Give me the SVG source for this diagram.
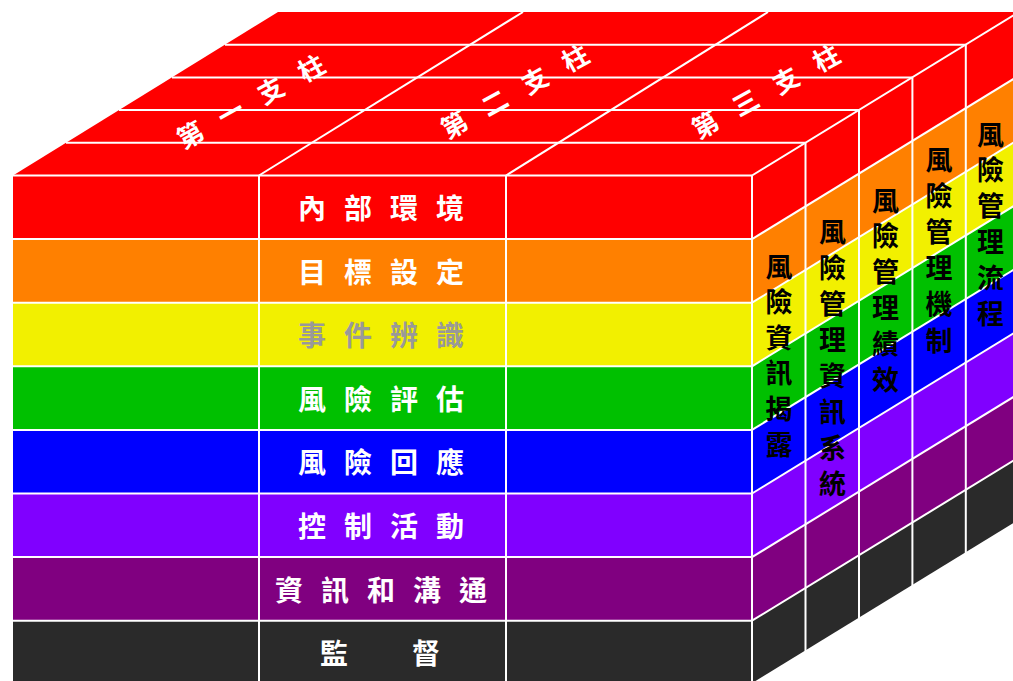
<svg xmlns="http://www.w3.org/2000/svg" width="1013" height="681" viewBox="0 0 1013 681">
<style>
.ln{stroke:#fff;stroke-width:2;fill:none;stroke-linecap:butt}
.ft{font-family:"Noto Sans CJK TC","Noto Sans CJK SC",sans-serif;font-weight:bold;font-size:28px;letter-spacing:18px;fill:#fff;dominant-baseline:central}
.tp{font-family:"Noto Sans CJK TC","Noto Sans CJK SC",sans-serif;font-weight:bold;font-size:26px;letter-spacing:20px;fill:#fff;dominant-baseline:central}
.vt{font-family:"Noto Sans CJK TC","Noto Sans CJK SC",sans-serif;font-weight:bold;font-size:27px;fill:#000;text-anchor:middle;dominant-baseline:central}
</style>
<rect width="1013" height="681" fill="#fff"/>
<g id="top-face">
<polygon points="13,175.5 752,175.5 1019,12 278,12" fill="#FF0000"/>
</g>
<g id="front-face">
<rect x="13" y="175.5" width="739" height="63.6" fill="#FF0000"/>
<rect x="13" y="239.1" width="739" height="63.6" fill="#FF8000"/>
<rect x="13" y="302.7" width="739" height="63.6" fill="#F2F000"/>
<rect x="13" y="366.3" width="739" height="63.6" fill="#00C000"/>
<rect x="13" y="429.9" width="739" height="63.6" fill="#0000FF"/>
<rect x="13" y="493.5" width="739" height="63.6" fill="#8000FF"/>
<rect x="13" y="557.1" width="739" height="63.6" fill="#800080"/>
<rect x="13" y="620.7" width="739" height="63.6" fill="#2A2A2A"/>
</g>
<g id="right-face">
<polygon points="752,175.5 1019,12 1019,75.6 752,239.1" fill="#FF0000"/>
<polygon points="752,239.1 1019,75.6 1019,139.2 752,302.7" fill="#FF8000"/>
<polygon points="752,302.7 1019,139.2 1019,202.8 752,366.3" fill="#F2F000"/>
<polygon points="752,366.3 1019,202.8 1019,266.4 752,429.9" fill="#00C000"/>
<polygon points="752,429.9 1019,266.4 1019,330 752,493.5" fill="#0000FF"/>
<polygon points="752,493.5 1019,330 1019,393.6 752,557.1" fill="#8000FF"/>
<polygon points="752,557.1 1019,393.6 1019,457.2 752,620.7" fill="#800080"/>
<polygon points="752,620.7 1019,457.2 1019,520.8 752,684.3" fill="#2A2A2A"/>
</g>
<g id="connectors">
<!-- top face -->
<line class="ln" x1="66" y1="142.8" x2="805.5" y2="142.8"/>
<line class="ln" x1="119" y1="110.1" x2="859" y2="110.1"/>
<line class="ln" x1="172" y1="77.4" x2="912.4" y2="77.4"/>
<line class="ln" x1="225" y1="44.7" x2="965.8" y2="44.7"/>
<line class="ln" x1="259" y1="175.5" x2="523" y2="12"/>
<line class="ln" x1="506" y1="175.5" x2="768" y2="12"/>
<line class="ln" x1="752" y1="175.5" x2="1019" y2="12"/>
<!-- front face -->
<line class="ln" x1="13" y1="175.5" x2="752" y2="175.5"/>
<line class="ln" x1="13" y1="239.1" x2="752" y2="239.1"/>
<line class="ln" x1="13" y1="302.7" x2="752" y2="302.7"/>
<line class="ln" x1="13" y1="366.3" x2="752" y2="366.3"/>
<line class="ln" x1="13" y1="429.9" x2="752" y2="429.9"/>
<line class="ln" x1="13" y1="493.5" x2="752" y2="493.5"/>
<line class="ln" x1="13" y1="557.1" x2="752" y2="557.1"/>
<line class="ln" x1="13" y1="620.7" x2="752" y2="620.7"/>
<line class="ln" x1="259" y1="175.5" x2="259" y2="684"/>
<line class="ln" x1="506" y1="175.5" x2="506" y2="684"/>
<line class="ln" x1="752" y1="175.5" x2="752" y2="684"/>
<!-- right face -->
<line class="ln" x1="752" y1="239.1" x2="1019" y2="75.6"/>
<line class="ln" x1="752" y1="302.7" x2="1019" y2="139.2"/>
<line class="ln" x1="752" y1="366.3" x2="1019" y2="202.8"/>
<line class="ln" x1="752" y1="429.9" x2="1019" y2="266.4"/>
<line class="ln" x1="752" y1="493.5" x2="1019" y2="330"/>
<line class="ln" x1="752" y1="557.1" x2="1019" y2="393.6"/>
<line class="ln" x1="752" y1="620.7" x2="1019" y2="457.2"/>
<line class="ln" x1="752" y1="684.3" x2="1019" y2="520.8"/>
<line class="ln" x1="805.5" y1="142.8" x2="805.5" y2="651.5"/>
<line class="ln" x1="859" y1="110.1" x2="859" y2="618.8"/>
<line class="ln" x1="912.4" y1="77.4" x2="912.4" y2="586.1"/>
<line class="ln" x1="965.8" y1="44.7" x2="965.8" y2="553.4"/>
</g>
<g id="pillar-labels">
<text class="tp" x="-82" y="0" transform="translate(250,100) rotate(-29)">第一支柱</text>
<text class="tp" x="-82" y="0" transform="translate(514,90) rotate(-29)">第二支柱</text>
<text class="tp" x="-82" y="0" transform="translate(765,90) rotate(-29)">第三支柱</text>
</g>
<g id="component-labels">
<text class="ft" x="298" y="207">內部環境</text>
<text class="ft" x="298" y="270.5">目標設定</text>
<text class="ft" x="298" y="334" fill="#999999" style="fill:#999999">事件辨識</text>
<text class="ft" x="298" y="397.5">風險評估</text>
<text class="ft" x="298" y="461">風險回應</text>
<text class="ft" x="298" y="525">控制活動</text>
<text class="ft" x="275" y="588.5">資訊和溝通</text>
<text class="ft" x="320" y="652">監　督</text>
</g>
<g id="objective-labels">
<text class="vt" x="779 779 779 779 779 779" y="265 300.6 336.2 371.8 407.4 443">風險資訊揭露</text>
<text class="vt" x="832.5 832.5 832.5 832.5 832.5 832.5 832.5 832.5" y="230 266 302 338 374 410 446 482">風險管理資訊系統</text>
<text class="vt" x="885.5 885.5 885.5 885.5 885.5 885.5" y="199 234.8 270.6 306.4 342.2 378">風險管理績效</text>
<text class="vt" x="939 939 939 939 939 939" y="158 194.2 230.4 266.6 302.8 339">風險管理機制</text>
<text class="vt" x="990.5 990.5 990.5 990.5 990.5 990.5" y="133 168.8 204.6 240.4 276.2 312">風險管理流程</text>
</g>
</svg>
